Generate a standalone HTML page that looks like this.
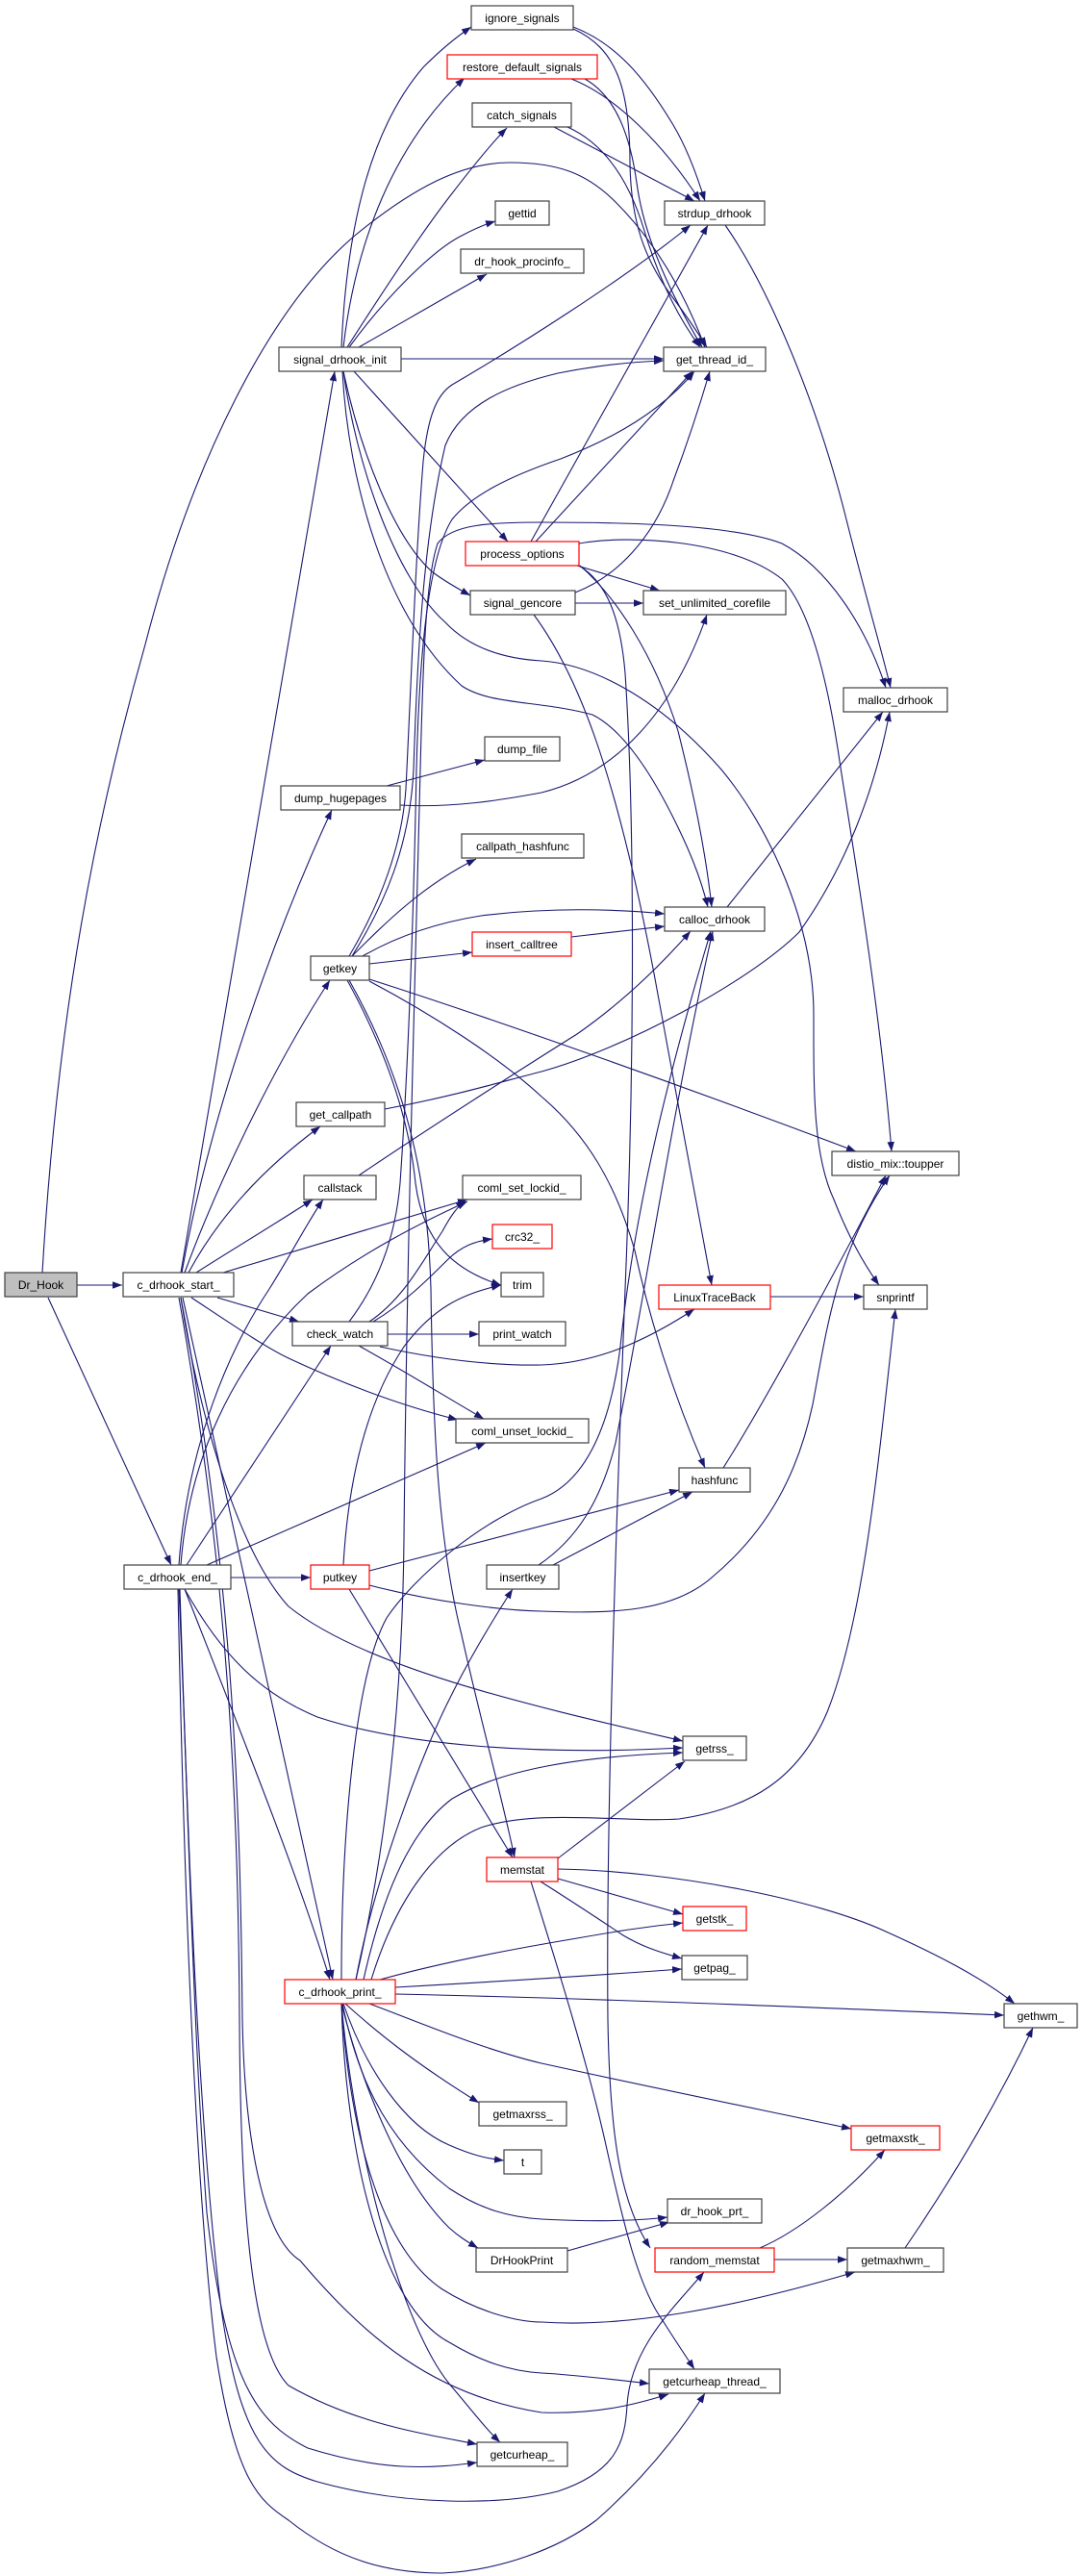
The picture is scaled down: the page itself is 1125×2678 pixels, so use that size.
<!DOCTYPE html>
<html><head><meta charset="utf-8">
<style>
html,body{margin:0;padding:0;background:#fff;}
svg{display:block;}
.n{fill:#fff;stroke:#404040;stroke-width:1.2;}
.r{fill:#fff;stroke:#ff0000;stroke-width:1.2;}
.g{fill:#bfbfbf;stroke:#404040;stroke-width:1.2;}
text{font-family:"Liberation Sans",Arial,sans-serif;font-size:12px;fill:#000;text-anchor:middle;}
.e{fill:none;stroke:#191970;stroke-width:1.1;marker-end:url(#a);}
</style></head><body>
<svg width="1125" height="2678" viewBox="0 0 1125 2678" xmlns="http://www.w3.org/2000/svg">
<defs>
<marker id="a" markerUnits="userSpaceOnUse" markerWidth="11" markerHeight="8" refX="10" refY="3.75" orient="auto">
<path d="M0,0 L10,3.75 L0,7.5 z" fill="#191970"/>
</marker>
</defs>
<rect width="1125" height="2678" fill="#fff"/>
<g>
<!-- Dr_Hook -->
<path class="e" d="M80,1336 L127,1336"/>
<path class="e" d="M50,1349 L178,1627"/>
<path class="e" d="M44,1323 C60,1050 100,850 151,670 C200,480 280,320 370,244 C430,195 480,169 530,169 C580,169 610,180 640,210 C680,250 710,300 733,361"/>
<!-- c_drhook_start_ -->
<path class="e" d="M188,1323 L348,386"/>
<path class="e" d="M189,1323 C220,1150 290,960 345,842"/>
<path class="e" d="M192,1323 C230,1220 290,1100 343,1019"/>
<path class="e" d="M196,1323 C230,1260 280,1210 333,1171"/>
<path class="e" d="M204,1323 C240,1300 290,1270 325,1247"/>
<path class="e" d="M232,1323 L486,1247"/>
<path class="e" d="M226,1349 L311,1374"/>
<path class="e" d="M199,1349 C240,1376 275,1400 300,1412 C360,1440 420,1462 476,1476"/>
<path class="e" d="M190,1349 C250,1620 300,1850 346,2058"/>
<path class="e" d="M188,1349 C205,1460 245,1610 300,1670 C380,1735 560,1775 710,1810"/>
<path class="e" d="M186,1349 C240,1650 248,1900 249,2100 C250,2350 270,2450 300,2480 C370,2520 440,2530 496,2541"/>
<path class="e" d="M188,1349 C245,1650 250,1900 252,2100 C255,2250 280,2330 312,2350 C380,2430 450,2490 563,2508 C620,2510 660,2500 695,2489"/>
<!-- c_drhook_end_ -->
<path class="e" d="M240,1640 L323,1640"/>
<path class="e" d="M194,1627 L344,1399"/>
<path class="e" d="M215,1627 L505,1500"/>
<path class="e" d="M188,1627 C196,1520 240,1420 320,1345 C380,1300 440,1270 486,1249"/>
<path class="e" d="M186,1627 C195,1500 240,1400 280,1340 C305,1300 320,1270 336,1247"/>
<path class="e" d="M192,1652 C250,1800 310,1950 343,2058"/>
<path class="e" d="M192,1652 C230,1720 270,1760 330,1785 C420,1815 560,1825 710,1817"/>
<path class="e" d="M186,1652 C195,1850 200,2100 215,2300 C235,2480 270,2520 320,2545 C400,2570 450,2566 496,2560"/>
<path class="e" d="M187,1652 C195,1900 205,2200 230,2400 C250,2540 280,2565 330,2580 C420,2605 520,2605 580,2590 C640,2570 650,2540 652,2500 C656,2440 700,2400 732,2362"/>
<path class="e" d="M185,1652 C190,1900 200,2250 225,2450 C245,2580 270,2600 300,2620 C350,2660 400,2675 460,2675 C520,2672 580,2650 620,2620 C660,2585 700,2540 733,2488"/>
<!-- signal_drhook_init -->
<path class="e" d="M355,361 C360,250 380,140 440,70 C460,50 475,38 490,28"/>
<path class="e" d="M357,361 C370,250 410,150 483,81"/>
<path class="e" d="M361,361 C400,300 440,240 467,205 C490,175 510,150 527,133"/>
<path class="e" d="M363,361 C400,310 450,260 480,245 C495,237 505,233 515,230"/>
<path class="e" d="M373,361 C410,340 470,305 506,285"/>
<path class="e" d="M417,373 L690,373"/>
<path class="e" d="M368,386 L528,563"/>
<path class="e" d="M357,386 C375,470 410,560 450,595 C465,606 478,613 489,619"/>
<path class="e" d="M356,386 C362,500 400,640 480,713 C510,733 560,728 616,743 C650,760 680,810 700,850 C715,880 728,910 736,943"/>
<path class="e" d="M357,386 C370,480 410,600 463,647 C480,665 510,684 563,687 C610,690 680,720 750,800 C800,860 846,960 846,1055 C846,1130 845,1200 867,1247 C880,1280 895,1310 914,1336"/>
<!-- ignore/restore/catch -->
<path class="e" d="M596,28 C640,45 670,80 700,130 C712,150 724,180 733,209"/>
<path class="e" d="M596,30 C640,50 655,90 655,170 C656,230 670,270 700,310 C715,330 725,345 735,361"/>
<path class="e" d="M594,82 C640,100 690,150 728,209"/>
<path class="e" d="M608,82 C640,100 655,140 662,190 C670,250 700,310 730,361"/>
<path class="e" d="M576,132 L722,209"/>
<path class="e" d="M590,132 C630,150 655,190 670,240 C685,290 705,330 728,361"/>
<!-- long verticals -->
<path class="e" d="M363,994 C395,940 418,880 422,820 C428,700 432,580 440,480 C445,430 455,410 470,400 C530,365 650,290 718,234"/>
<path class="e" d="M366,994 C400,940 426,880 430,800 C434,680 440,560 463,463 C480,420 530,400 580,388 C620,380 660,376 690,375"/>
<path class="e" d="M363,1374 C385,1345 410,1300 416,1230 C425,1100 430,950 433,800 C436,680 445,580 470,540 C490,515 530,495 583,477 C640,455 690,425 722,386"/>
<path class="e" d="M370,2058 C395,1950 418,1800 420,1600 C423,1300 432,1000 437,800 C440,680 443,600 455,565 C470,545 510,543 563,543 C650,543 760,545 813,565 C860,590 900,650 921,715"/>
<!-- getkey -->
<path class="e" d="M366,994 C400,960 440,920 495,893"/>
<path class="e" d="M377,994 C410,975 450,960 500,952 C570,943 640,945 691,950"/>
<path class="e" d="M384,1002 L491,990"/>
<path class="e" d="M384,1018 C500,1055 700,1125 890,1197"/>
<path class="e" d="M384,1020 C450,1055 520,1100 563,1140 C610,1180 640,1230 660,1300 C675,1370 700,1450 733,1526"/>
<path class="e" d="M363,1019 C420,1120 445,1220 448,1340 C450,1480 455,1600 480,1700 C500,1790 520,1860 535,1931"/>
<path class="e" d="M361,1019 C400,1090 425,1160 432,1230 C440,1290 470,1320 521,1336"/>
<!-- misc rank2 -->
<path class="e" d="M400,1153 C470,1140 520,1125 563,1114 C650,1090 780,1020 831,969 C880,900 910,820 925,740"/>
<path class="e" d="M373,1222 C450,1170 560,1100 600,1075 C650,1040 690,1000 718,968"/>
<path class="e" d="M594,974 L691,963"/>
<path class="e" d="M402,817 L504,790"/>
<path class="e" d="M416,837 C470,840 520,832 563,824 C640,805 700,740 735,639"/>
<!-- process_options -->
<path class="e" d="M552,563 L736,234"/>
<path class="e" d="M557,563 L720,386"/>
<path class="e" d="M600,588 L686,614"/>
<path class="e" d="M602,588 C630,605 645,640 650,700 C660,850 660,1100 650,1340 C640,1600 630,1900 632,2100 C634,2220 645,2290 676,2337"/>
<path class="e" d="M603,588 C640,620 680,680 705,760 C720,820 733,880 740,943"/>
<path class="e" d="M602,565 C650,556 760,560 813,602 C840,630 860,700 874,798 C890,900 915,1050 927,1197"/>
<!-- signal_gencore -->
<path class="e" d="M598,627 L669,627"/>
<path class="e" d="M598,616 C640,600 680,560 700,500 C715,460 728,420 738,386"/>
<path class="e" d="M555,639 C600,700 640,800 680,1012 C700,1120 720,1230 740,1336"/>
<!-- rank4/5 -->
<path class="e" d="M754,234 C800,300 850,420 880,540 C900,620 915,670 926,715"/>
<path class="e" d="M756,943 L918,740"/>
<path class="e" d="M801,1348 L898,1348"/>
<path class="e" d="M752,1526 C800,1450 880,1300 921,1222"/>
<!-- check_watch -->
<path class="e" d="M403,1387 L498,1387"/>
<path class="e" d="M373,1399 C420,1425 460,1450 503,1475"/>
<path class="e" d="M395,1400 C450,1412 510,1420 563,1419 C620,1417 670,1395 722,1361"/>
<path class="e" d="M384,1374 C420,1350 440,1310 460,1280 C468,1265 475,1255 484,1248"/>
<path class="e" d="M388,1374 C420,1355 445,1330 465,1310 C480,1295 495,1290 512,1288"/>
<!-- putkey -->
<path class="e" d="M384,1648 C450,1665 520,1674 563,1675 C640,1678 700,1675 740,1640 C800,1590 830,1530 845,1460 C860,1380 870,1300 925,1222"/>
<path class="e" d="M384,1633 L706,1549"/>
<path class="e" d="M363,1652 L533,1931"/>
<path class="e" d="M357,1627 C362,1540 380,1460 420,1400 C450,1360 480,1345 521,1336"/>
<!-- insertkey -->
<path class="e" d="M575,1627 L720,1551"/>
<path class="e" d="M560,1627 C600,1600 625,1560 640,1500 C670,1350 700,1150 741,968"/>
<!-- c_drhook_print_ up -->
<path class="e" d="M355,2058 C355,1900 370,1740 402,1682 C430,1640 500,1580 563,1558 C610,1540 635,1480 645,1400 C660,1250 700,1100 739,968"/>
<path class="e" d="M370,2058 C390,1950 440,1820 467,1767 C490,1720 515,1680 533,1652"/>
<path class="e" d="M378,2058 C400,1960 430,1900 470,1870 C520,1840 600,1826 710,1822"/>
<path class="e" d="M386,2058 C410,1980 450,1920 500,1900 C560,1880 650,1895 706,1891 C780,1880 830,1850 860,1780 C900,1680 915,1500 931,1361"/>
<!-- memstat -->
<path class="e" d="M580,1932 L712,1831"/>
<path class="e" d="M580,1953 L710,1990"/>
<path class="e" d="M562,1956 C600,1980 630,2000 648,2012 C665,2022 680,2028 709,2036"/>
<path class="e" d="M580,1943 C700,1945 850,1975 921,2008 C970,2030 1020,2055 1055,2083"/>
<path class="e" d="M552,1956 C575,2030 610,2140 630,2230 C650,2320 665,2380 690,2414 C700,2430 712,2448 722,2463"/>
<!-- c_drhook_print_ down/right -->
<path class="e" d="M395,2058 C460,2040 540,2025 600,2015 C640,2008 670,2003 710,1999"/>
<path class="e" d="M411,2066 C500,2061 600,2055 709,2047"/>
<path class="e" d="M411,2073 C600,2077 800,2085 1044,2095"/>
<path class="e" d="M384,2083 C430,2100 500,2130 563,2145 C700,2175 800,2195 885,2213"/>
<path class="e" d="M359,2083 C400,2120 440,2150 498,2186"/>
<path class="e" d="M357,2083 C380,2150 420,2210 467,2230 C490,2240 505,2244 524,2246"/>
<path class="e" d="M356,2083 C370,2150 395,2220 467,2275 C500,2297 530,2305 563,2307 C620,2310 660,2309 694,2305"/>
<path class="e" d="M355,2083 C380,2180 420,2270 467,2316 C477,2325 485,2330 497,2337"/>
<path class="e" d="M355,2083 C365,2230 400,2340 460,2380 C500,2405 540,2414 563,2414 C650,2420 760,2400 889,2362"/>
<path class="e" d="M355,2083 C360,2250 400,2400 467,2435 C500,2455 530,2465 563,2467 C600,2469 640,2474 675,2478"/>
<path class="e" d="M355,2083 C370,2250 420,2420 467,2478 C490,2505 505,2525 520,2539"/>
<!-- bottom right -->
<path class="e" d="M590,2340 L696,2310"/>
<path class="e" d="M790,2337 C830,2320 880,2280 920,2235"/>
<path class="e" d="M805,2349 L881,2349"/>
<path class="e" d="M941,2337 C980,2280 1030,2200 1074,2108"/>
</g>
<g>
<rect class="g" x="5" y="1323" width="75" height="25"/><text x="42.5" y="1340">Dr_Hook</text>
<rect class="n" x="128" y="1323" width="115" height="25"/><text x="185.5" y="1340">c_drhook_start_</text>
<rect class="n" x="129" y="1627" width="111" height="25"/><text x="184.5" y="1644">c_drhook_end_</text>
<rect class="n" x="290" y="361" width="127" height="25"/><text x="353.5" y="378">signal_drhook_init</text>
<rect class="n" x="292" y="817" width="124" height="25"/><text x="354" y="834">dump_hugepages</text>
<rect class="n" x="323" y="994" width="61" height="25"/><text x="353.5" y="1011">getkey</text>
<rect class="n" x="308" y="1146" width="92" height="25"/><text x="354" y="1163">get_callpath</text>
<rect class="n" x="316" y="1222" width="75" height="25"/><text x="353.5" y="1239">callstack</text>
<rect class="n" x="304" y="1374" width="99" height="25"/><text x="353.5" y="1391">check_watch</text>
<rect class="r" x="323" y="1627" width="61" height="25"/><text x="353.5" y="1644">putkey</text>
<rect class="r" x="296" y="2058" width="115" height="25"/><text x="353.5" y="2075">c_drhook_print_</text>
<rect class="n" x="490" y="6" width="106" height="25"/><text x="543" y="23">ignore_signals</text>
<rect class="r" x="465" y="57" width="156" height="25"/><text x="543" y="74">restore_default_signals</text>
<rect class="n" x="491" y="107" width="103" height="25"/><text x="542.5" y="124">catch_signals</text>
<rect class="n" x="515" y="209" width="56" height="25"/><text x="543" y="226">gettid</text>
<rect class="n" x="479" y="259" width="128" height="25"/><text x="543" y="276">dr_hook_procinfo_</text>
<rect class="r" x="484" y="563" width="118" height="25"/><text x="543" y="580">process_options</text>
<rect class="n" x="489" y="614" width="109" height="25"/><text x="543.5" y="631">signal_gencore</text>
<rect class="n" x="504" y="766" width="78" height="25"/><text x="543" y="783">dump_file</text>
<rect class="n" x="480" y="867" width="127" height="25"/><text x="543.5" y="884">callpath_hashfunc</text>
<rect class="r" x="491" y="969" width="103" height="25"/><text x="542.5" y="986">insert_calltree</text>
<rect class="n" x="481" y="1222" width="123" height="25"/><text x="542.5" y="1239">coml_set_lockid_</text>
<rect class="r" x="512" y="1273" width="62" height="25"/><text x="543" y="1290">crc32_</text>
<rect class="n" x="521" y="1323" width="44" height="25"/><text x="543" y="1340">trim</text>
<rect class="n" x="498" y="1374" width="90" height="25"/><text x="543" y="1391">print_watch</text>
<rect class="n" x="474" y="1475" width="138" height="25"/><text x="543" y="1492">coml_unset_lockid_</text>
<rect class="n" x="506" y="1627" width="75" height="25"/><text x="543.5" y="1644">insertkey</text>
<rect class="r" x="506" y="1931" width="74" height="25"/><text x="543" y="1948">memstat</text>
<rect class="n" x="498" y="2185" width="91" height="25"/><text x="543.5" y="2202">getmaxrss_</text>
<rect class="n" x="524" y="2235" width="39" height="25"/><text x="543.5" y="2252">t</text>
<rect class="n" x="495" y="2337" width="95" height="25"/><text x="542.5" y="2354">DrHookPrint</text>
<rect class="n" x="496" y="2539" width="94" height="25"/><text x="543" y="2556">getcurheap_</text>
<rect class="n" x="691" y="209" width="104" height="25"/><text x="743" y="226">strdup_drhook</text>
<rect class="n" x="690" y="361" width="106" height="25"/><text x="743" y="378">get_thread_id_</text>
<rect class="n" x="669" y="614" width="148" height="25"/><text x="743" y="631">set_unlimited_corefile</text>
<rect class="n" x="691" y="943" width="104" height="25"/><text x="743" y="960">calloc_drhook</text>
<rect class="r" x="685" y="1336" width="116" height="25"/><text x="743" y="1353">LinuxTraceBack</text>
<rect class="n" x="706" y="1526" width="74" height="25"/><text x="743" y="1543">hashfunc</text>
<rect class="n" x="710" y="1805" width="66" height="25"/><text x="743" y="1822">getrss_</text>
<rect class="r" x="710" y="1982" width="66" height="25"/><text x="743" y="1999">getstk_</text>
<rect class="n" x="709" y="2033" width="68" height="25"/><text x="743" y="2050">getpag_</text>
<rect class="n" x="694" y="2286" width="98" height="25"/><text x="743" y="2303">dr_hook_prt_</text>
<rect class="r" x="681" y="2337" width="124" height="25"/><text x="743" y="2354">random_memstat</text>
<rect class="n" x="675" y="2463" width="136" height="25"/><text x="743" y="2480">getcurheap_thread_</text>
<rect class="n" x="877" y="715" width="108" height="25"/><text x="931" y="732">malloc_drhook</text>
<rect class="n" x="865" y="1197" width="132" height="25"/><text x="931" y="1214">distio_mix::toupper</text>
<rect class="n" x="898" y="1336" width="66" height="25"/><text x="931" y="1353">snprintf</text>
<rect class="r" x="885" y="2210" width="92" height="25"/><text x="931" y="2227">getmaxstk_</text>
<rect class="n" x="881" y="2337" width="100" height="25"/><text x="931" y="2354">getmaxhwm_</text>
<rect class="n" x="1044" y="2083" width="76" height="25"/><text x="1082" y="2100">gethwm_</text>
</g>
</svg>
</body></html>
